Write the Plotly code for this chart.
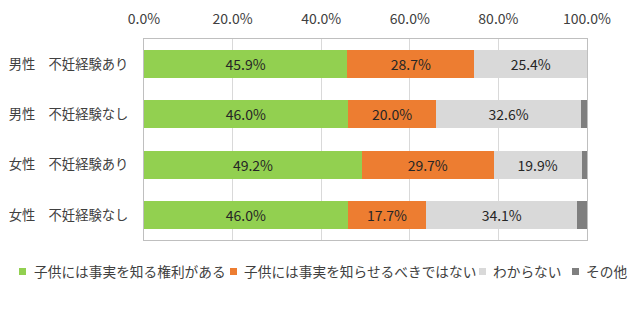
import plotly.graph_objects as go

categories = ["男性　不妊経験あり", "男性　不妊経験なし", "女性　不妊経験あり", "女性　不妊経験なし"]
series_names = ["子供には事実を知る権利がある", "子供には事実を知らせるべきではない", "わからない", "その他"]
right_to_know = [45.9, 46.0, 49.2, 46.0]
should_not_tell = [28.7, 20.0, 29.7, 17.7]
dont_know = [25.4, 32.6, 19.9, 34.1]
other = [0.0, 1.4, 1.2, 2.2]
tick_vals = [0, 20, 40, 60, 80, 100]
tick_text = ["0.0%", "20.0%", "40.0%", "60.0%", "80.0%", "100.0%"]

colors = ["#92D050", "#ED7D31", "#D9D9D9", "#7F7F7F"]
values = [right_to_know, should_not_tell, dont_know, other]
show_text = [True, True, True, False]

FONT = "Noto Sans CJK JP, Noto Sans, sans-serif"
W, H = 629, 321
L, R, T, B = 144, 42, 39, 81
PW, PH = W - L - R, H - T - B

def px2x(px):
    return (px - L) / PW

def py2y(py):
    return (H - B - py) / PH

fig = go.Figure()
for name, vals, col, st in zip(series_names, values, colors, show_text):
    fig.add_trace(go.Bar(
        y=categories, x=vals, name=name, orientation="h",
        marker=dict(color=col, line=dict(width=0)),
        text=[f"{v:.1f}%" for v in vals] if st else None,
        textposition="inside" if st else "none",
        insidetextanchor="middle",
        textfont=dict(color="#262626", size=14, family=FONT),
        hoverinfo="x+y+name",
        showlegend=False,
    ))

# custom one-row legend (layout decoration)
legend_sq_x = [19, 230, 479, 572]
legend_tx_x = [32, 242, 491, 584]
shapes = []
annotations = []
for name, col, sx, tx in zip(series_names, colors, legend_sq_x, legend_tx_x):
    shapes.append(dict(type="rect", xref="paper", yref="paper",
                       x0=px2x(sx), x1=px2x(sx + 7), y0=py2y(275), y1=py2y(268),
                       fillcolor=col, line=dict(width=0)))
    annotations.append(dict(xref="paper", yref="paper", x=px2x(tx), y=py2y(271),
                            xanchor="left", yanchor="middle", text=name, showarrow=False,
                            font=dict(size=13.7, color="#404040", family=FONT)))

fig.update_layout(
    barmode="stack",
    bargap=0.44,
    width=W, height=H,
    margin=dict(l=L, r=R, t=T, b=B, autoexpand=False),
    paper_bgcolor="white", plot_bgcolor="white",
    font=dict(family=FONT, size=13, color="#404040"),
    showlegend=False,
    shapes=shapes,
    annotations=annotations,
    xaxis=dict(side="top", range=[0, 100], tickvals=tick_vals, ticktext=tick_text,
               showgrid=True, gridcolor="#D9D9D9", gridwidth=1, zeroline=False,
               showline=True, mirror=True, linecolor="#BFBFBF", linewidth=1,
               tickfont=dict(size=14, color="#404040"), ticks="", ticklabelstandoff=8,
               automargin=False),
    yaxis=dict(autorange="reversed", showline=True, mirror=True, linecolor="#BFBFBF",
               linewidth=1, ticks="", tickfont=dict(size=13.3, color="#404040"),
               ticklabelstandoff=12, automargin=False),
)

fig.write_html("out.html")
